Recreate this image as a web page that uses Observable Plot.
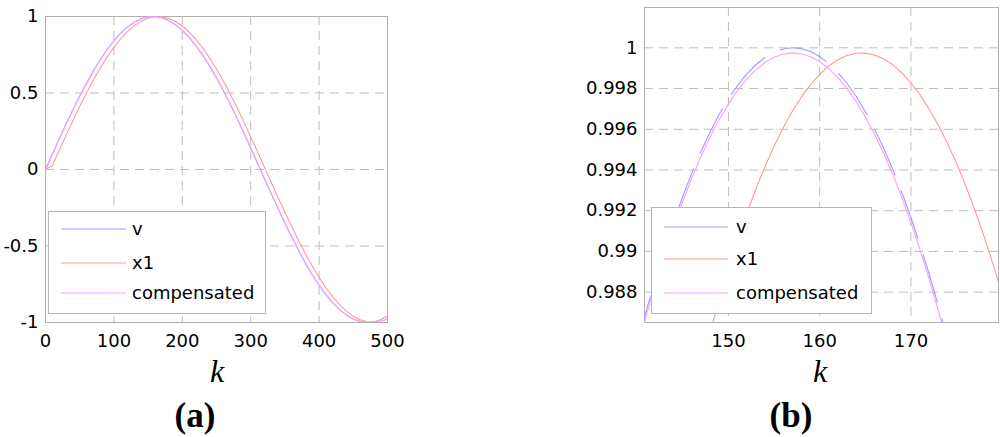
<!DOCTYPE html>
<html>
<head>
<meta charset="utf-8">
<script src="https://cdn.jsdelivr.net/npm/d3@7"></script>
<script src="https://cdn.jsdelivr.net/npm/@observablehq/plot@0.6"></script>
<style>
  html, body { margin: 0; padding: 0; background: #fff; }
  #root { position: relative; width: 1000px; height: 437px; overflow: hidden; font-family: "DejaVu Sans", sans-serif; }
  .panel { position: absolute; top: 0; }
  .klabel { position: absolute; font-family: "Liberation Serif", serif; font-style: italic; font-size: 32px; transform: translate(-50%, -50%); line-height: 1; }
  .plabel { position: absolute; font-family: "Liberation Serif", serif; font-weight: bold; font-size: 35px; transform: translate(-50%, -50%); line-height: 1; }
  .legend { position: absolute; background: #fff; border: 1px solid #b4b4b4; box-sizing: border-box; }
</style>
</head>
<body>
<div id="root"></div>
<script>
// ---------- Data ----------
const seriesNames = ["v", "x1", "compensated"];
const seriesColors = ["#9c9cff", "#ff9a9a", "#ff9cff"];

// Panel (a): k from 0 to 500 in steps of 10
const kA = [0,10,20,30,40,50,60,70,80,90,100,110,120,130,140,150,160,170,180,190,200,210,220,230,240,250,260,270,280,290,300,310,320,330,340,350,360,370,380,390,400,410,420,430,440,450,460,470,480,490,500];
const vA = [0,0.0998,0.1987,0.2955,0.3894,0.4794,0.5646,0.6442,0.7174,0.7833,0.8415,0.8912,0.9320,0.9636,0.9854,0.9975,0.9996,0.9917,0.9738,0.9463,0.9093,0.8632,0.8085,0.7457,0.6755,0.5985,0.5155,0.4274,0.3350,0.2392,0.1411,0.0416,-0.0584,-0.1577,-0.2555,-0.3508,-0.4425,-0.5298,-0.6119,-0.6878,-0.7568,-0.8183,-0.8716,-0.9162,-0.9516,-0.9775,-0.9937,-0.9999,-0.9962,-0.9825,-0.9589];
const x1A = [0,0.0250,0.1247,0.2231,0.3193,0.4123,0.5011,0.5850,0.6630,0.7344,0.7985,0.8544,0.9020,0.9404,0.9697,0.9891,0.9987,0.9983,0.9878,0.9676,0.9378,0.8985,0.8502,0.7934,0.7287,0.6567,0.5781,0.4938,0.4046,0.3113,0.2149,0.1163,0.0166,-0.0833,-0.1824,-0.2795,-0.3740,-0.4647,-0.5508,-0.6313,-0.7053,-0.7726,-0.8322,-0.8833,-0.9256,-0.9588,-0.9823,-0.9960,-0.9997,-0.9934,-0.9772];
const compA = [0,0.0998,0.1987,0.2954,0.3893,0.4793,0.5645,0.6440,0.7172,0.7831,0.8413,0.8910,0.9318,0.9634,0.9852,0.9973,0.9994,0.9915,0.9736,0.9461,0.9091,0.8630,0.8083,0.7455,0.6753,0.5984,0.5154,0.4273,0.3349,0.2391,0.1411,0.0416,-0.0584,-0.1577,-0.2554,-0.3507,-0.4424,-0.5297,-0.6117,-0.6876,-0.7566,-0.8181,-0.8714,-0.9160,-0.9514,-0.9773,-0.9935,-0.9997,-0.9960,-0.9823,-0.9587];
const xTicksA = [0,100,200,300,400,500];
const yTicksA = [-1,-0.5,0,0.5,1];

// Panel (b): zoom on the peak, k from 140 to 180
const kB = [140,141,142,143,144,145,146,147,148,149,150,151,152,153,154,155,156,157,158,159,160,161,162,163,164,165,166,167,168,169,170,171,172,173,174,175,176,177,178,179,180];
const vB = [0.985449,0.987100,0.988651,0.990104,0.991458,0.992713,0.993868,0.994924,0.995881,0.996738,0.997495,0.998152,0.998710,0.999168,0.999526,0.999784,0.999942,1.000000,0.999958,0.999816,0.999574,0.999232,0.998790,0.998248,0.997607,0.996866,0.996025,0.995084,0.994044,0.992904,0.991666,0.990328,0.988891,0.987355,0.985720,0.983987,0.982156,0.980227,0.978201,0.976079,0.973862];
const x1B = [0.969701,0.972085,0.974371,0.976561,0.978653,0.980647,0.982543,0.984341,0.986040,0.987641,0.989143,0.990545,0.991849,0.993055,0.994160,0.995166,0.996072,0.996879,0.997587,0.998193,0.998701,0.999109,0.999417,0.999625,0.999733,0.999741,0.999649,0.999457,0.999165,0.998773,0.998281,0.997690,0.996999,0.996208,0.995317,0.994327,0.993238,0.992049,0.990761,0.989374,0.987888];
const compB = [0.985203,0.986853,0.988404,0.989856,0.991210,0.992465,0.993620,0.994675,0.995632,0.996489,0.997246,0.997902,0.998460,0.998918,0.999276,0.999534,0.999692,0.999750,0.999708,0.999566,0.999324,0.998982,0.998540,0.997998,0.997358,0.996617,0.995776,0.994835,0.993795,0.992656,0.991418,0.990080,0.988644,0.987108,0.985474,0.983741,0.981911,0.979983,0.977958,0.975836,0.973620];
const xTicksB = [150,160,170];
const yTicksB = [0.988,0.99,0.992,0.994,0.996,0.998,1];

// ---------- helpers ----------
function rows(ks, ys) { return ks.map((k, i) => ({k, y: ys[i]})); }

const gridStyle = {stroke: "#bdbdbd", strokeWidth: 1, strokeDasharray: "9,6"};

function panel({left, width, height, mTop, mBottom, mLeft, mRight, xDomain, yDomain, xTicks, yTicks, yFmt, series, vDash}) {
  const marks = [
    Plot.ruleX(xTicks, {...gridStyle}),
    Plot.ruleY(yTicks, {...gridStyle}),
    Plot.frame({stroke: "#b0b0b0", strokeWidth: 1}),
    Plot.axisX(xTicks, {tickSize: 0, tickPadding: 12, fontSize: 18, fill: "#000", tickFormat: d => String(d)}),
    Plot.axisY(yTicks, {tickSize: 0, tickPadding: 7, fontSize: 18, fill: "#000", tickFormat: yFmt})
  ];
  series.forEach((s, i) => {
    marks.push(Plot.line(s, {x: "k", y: "y", stroke: seriesColors[i], strokeWidth: 1.1,
      strokeDasharray: (i === 0 && vDash) ? vDash : null, clip: true}));
  });
  const svg = Plot.plot({
    width, height,
    marginTop: mTop, marginBottom: mBottom, marginLeft: mLeft, marginRight: mRight,
    x: {domain: xDomain, label: null},
    y: {domain: yDomain, label: null},
    style: {fontFamily: "DejaVu Sans, sans-serif", fontSize: "18px", color: "#000", background: "transparent"},
    marks
  });
  svg.classList.add("panel");
  svg.style.left = left + "px";
  return svg;
}

function legend(root, {left, top, width, height, lineX0, lineX1, textX, rowsY}) {
  const div = document.createElement("div");
  div.className = "legend";
  Object.assign(div.style, {left: left + "px", top: top + "px", width: width + "px", height: height + "px"});
  const ns = "http://www.w3.org/2000/svg";
  const s = document.createElementNS(ns, "svg");
  s.setAttribute("width", width); s.setAttribute("height", height);
  s.style.position = "absolute"; s.style.left = "-1px"; s.style.top = "-1px";
  seriesNames.forEach((name, i) => {
    const ln = document.createElementNS(ns, "line");
    ln.setAttribute("x1", lineX0); ln.setAttribute("x2", lineX1);
    ln.setAttribute("y1", rowsY[i]); ln.setAttribute("y2", rowsY[i]);
    ln.setAttribute("stroke", seriesColors[i]); ln.setAttribute("stroke-width", 1.2);
    s.appendChild(ln);
    const t = document.createElementNS(ns, "text");
    t.setAttribute("x", textX); t.setAttribute("y", rowsY[i]);
    t.setAttribute("dy", "0.35em");
    t.setAttribute("font-family", "DejaVu Sans, sans-serif");
    t.setAttribute("font-size", "18");
    t.textContent = name;
    s.appendChild(t);
  });
  div.appendChild(s);
  root.appendChild(div);
}

function label(root, cls, text, x, y) {
  const d = document.createElement("div");
  d.className = cls; d.textContent = text;
  d.style.left = x + "px"; d.style.top = y + "px";
  root.appendChild(d);
}

const root = document.getElementById("root");

// Panel (a)
root.appendChild(panel({
  left: 0, width: 420, height: 360, mTop: 16, mBottom: 38, mLeft: 45, mRight: 33,
  xDomain: [0, 500], yDomain: [-1, 1], xTicks: xTicksA, yTicks: yTicksA,
  yFmt: d => String(d),
  series: [rows(kA, vA), rows(kA, x1A), rows(kA, compA)]
}));
legend(root, {left: 48, top: 211, width: 218, height: 103, lineX0: 13, lineX1: 78, textX: 84, rowsY: [18, 52, 82]});
label(root, "klabel", "k", 217, 371);
label(root, "plabel", "(a)", 195, 415);

// Panel (b)
root.appendChild(panel({
  left: 560, width: 440, height: 360, mTop: 7, mBottom: 38, mLeft: 84, mRight: 2,
  xDomain: [140.8, 179.6], yDomain: [0.98651, 1.00198], xTicks: xTicksB, yTicks: yTicksB,
  yFmt: d => String(+d.toFixed(3)),
  series: [rows(kB, vB), rows(kB, x1B), rows(kB, compB)],
  vDash: "50,17"
}));
legend(root, {left: 651, top: 207, width: 221, height: 107, lineX0: 13, lineX1: 77, textX: 85, rowsY: [20, 52, 86]});
label(root, "klabel", "k", 820, 371);
label(root, "plabel", "(b)", 791, 415);
</script>
</body>
</html>
